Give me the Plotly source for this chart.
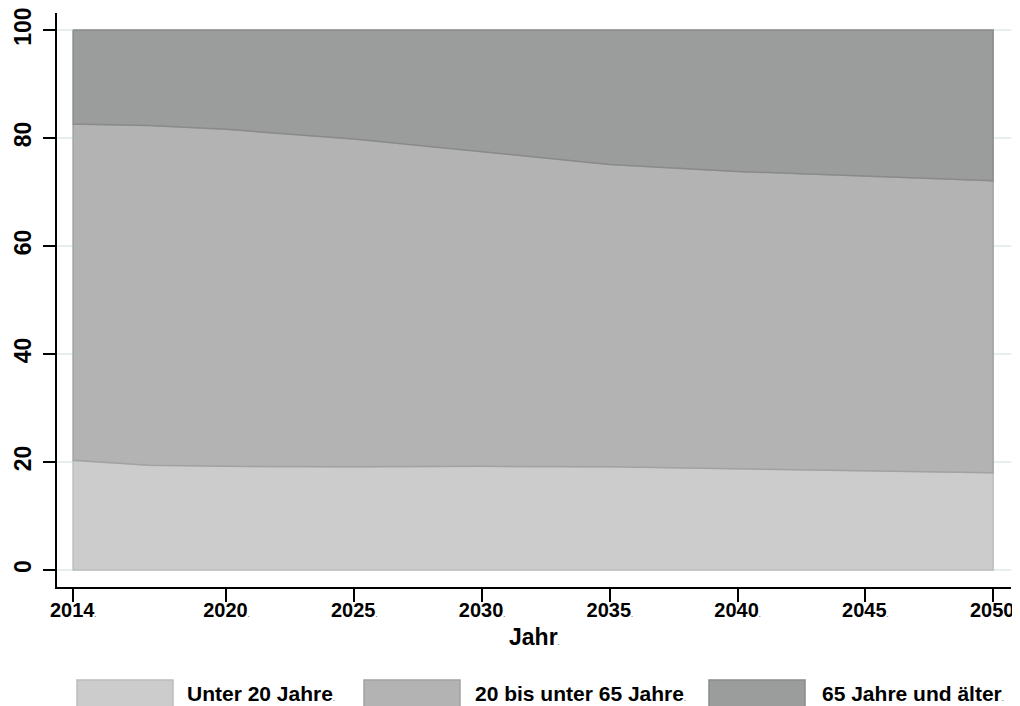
import numpy as np
import plotly.graph_objects as go

# ---- data (shares in percent) ----
years = [2014, 2017, 2020, 2025, 2030, 2035, 2040, 2045, 2050]
unter20 = [20.3, 19.4, 19.2, 19.1, 19.2, 19.1, 18.8, 18.4, 18.0]
mitte = [62.3, 62.9, 62.4, 60.7, 58.3, 56.0, 55.0, 54.6, 54.1]
ueber65 = [17.4, 17.7, 18.4, 20.2, 22.5, 24.9, 26.2, 27.0, 27.9]
series_names = ["Unter 20 Jahre", "20 bis unter 65 Jahre", "65 Jahre und älter"]
x_ticks = [2014, 2020, 2025, 2030, 2035, 2040, 2045, 2050]
y_ticks = [0, 20, 40, 60, 80, 100]

fills = ["#cccccc", "#b3b3b3", "#9b9d9c"]
edges = ["#bcbcbc", "#a2a2a2", "#8a8a8a"]

FONT = "Liberation Sans, Arial, sans-serif"
DOT = "<span style='font-size:7px'>.</span>"

stack = np.vstack([unter20, mitte, ueber65])
upper = np.cumsum(stack, axis=0)
lower = np.vstack([np.zeros(len(years)), upper[:-1]])

fig = go.Figure()
yrs = np.array(years, dtype=float)
for i, name in enumerate(series_names):
    px = np.concatenate([yrs, yrs[::-1], yrs[:1]])
    py = np.concatenate([upper[i], lower[i][::-1], upper[i][:1]])
    fig.add_trace(go.Scatter(
        x=px, y=py, mode="lines", fill="toself",
        fillcolor=fills[i], line=dict(color=edges[i], width=1.5),
        name=name, showlegend=False, hoverinfo="skip",
    ))

# page body has an 8px margin, so the figure is drawn 8px in from the window edge
OFF = 8
W, H = 1020 - OFF, 706 - OFF
# plot area in window pixels: left 57, right 1011, top 13, bottom 587
L, R, T, B = 57 - OFF, 1011 - OFF, 13 - OFF, 587 - OFF
def px2x(p):
    return (p - OFF - L) / (R - L)
def py2y(p):
    return (B - (p - OFF)) / (B - T)

fig.update_layout(
    width=W, height=H,
    margin=dict(l=L, r=W - R, t=T, b=H - B, pad=0, autoexpand=False),
    paper_bgcolor="white", plot_bgcolor="white",
    font=dict(family=FONT, color="black"),
    xaxis=dict(
        range=[2013.37, 2050.70],
        tickvals=x_ticks,
        ticktext=[f"<b>{t}</b>{DOT}" for t in x_ticks],
        tickfont=dict(size=20, family=FONT),
        ticks="outside", ticklen=13, tickwidth=1.5, tickcolor="black",
        ticklabelstandoff=-9, ticklabeloverflow="allow",
        showline=True, linecolor="black", linewidth=1.5,
        showgrid=False, zeroline=False, automargin=False,
    ),
    yaxis=dict(
        range=[-3.15, 103.15],
        tickvals=y_ticks,
        ticktext=[f"<b>{t}</b>" for t in y_ticks],
        tickangle=-90,
        tickfont=dict(size=23, family=FONT),
        ticks="outside", ticklen=12, tickwidth=1.5, tickcolor="black",
        ticklabelstandoff=3, ticklabeloverflow="allow",
        showline=True, linecolor="black", linewidth=1.5,
        showgrid=True, gridcolor="#e6eff0", gridwidth=1.5,
        zeroline=False, automargin=False,
    ),
    showlegend=False,
)

annotations = [
    dict(text=f"<b>Jahr</b>{DOT}", x=px2x(534), y=py2y(637), xref="paper", yref="paper",
         showarrow=False, font=dict(size=23, family=FONT), xanchor="center", yanchor="middle"),
]
shapes = []
box_x = [77, 364, 709]
text_x = [185, 473, 820]
for i, name in enumerate(series_names):
    shapes.append(dict(
        type="rect", xref="paper", yref="paper",
        x0=px2x(box_x[i]), x1=px2x(box_x[i] + 96),
        y0=py2y(680), y1=py2y(712),
        fillcolor=fills[i], line=dict(color=edges[i], width=1.5), layer="above",
    ))
    annotations.append(dict(
        text=f"<b>{name}</b>{DOT}", x=px2x(text_x[i]), y=py2y(693), xref="paper", yref="paper",
        showarrow=False, font=dict(size=21, family=FONT), xanchor="left", yanchor="middle",
    ))
fig.update_layout(annotations=annotations, shapes=shapes)

fig.write_html("out.html")
